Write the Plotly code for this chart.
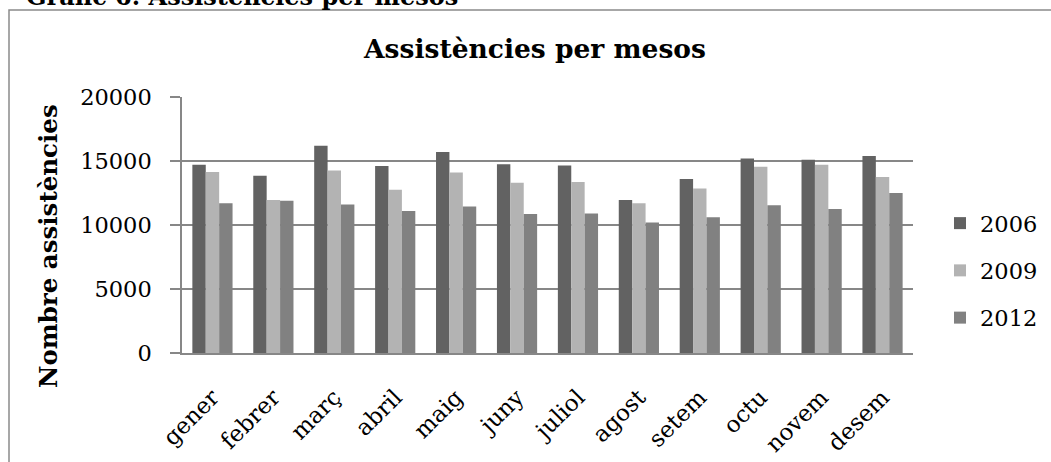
import plotly.graph_objects as go

# Monthly assistance counts per year
months = ["gener", "febrer", "març", "abril", "maig", "juny",
          "juliol", "agost", "setem", "octu", "novem", "desem"]
y2006 = [14700, 13850, 16200, 14600, 15700, 14750, 14650, 11950, 13600, 15200, 15100, 15400]
y2009 = [14150, 11950, 14250, 12750, 14100, 13300, 13350, 11700, 12850, 14550, 14700, 13750]
y2012 = [11700, 11900, 11600, 11100, 11450, 10850, 10900, 10200, 10600, 11550, 11250, 12500]
years = ["2006", "2009", "2012"]
colors = ["#626262", "#b3b3b3", "#818181"]
y_ticks = [0, 5000, 10000, 15000, 20000]

W, H = 1051, 462
FONT = "DejaVu Serif"
GRID = "#878787"

fig = go.Figure()
for name, vals, col in zip(years, [y2006, y2009, y2012], colors):
    fig.add_trace(go.Bar(
        x=months, y=vals, name=name, legendgroup=name,
        marker=dict(color=col, line=dict(width=0)),
    ))

fig.update_layout(
    width=W, height=H,
    margin=dict(l=0, r=0, t=0, b=0),
    paper_bgcolor="white", plot_bgcolor="white",
    barmode="group", bargap=0.34, bargroupgap=0,
    font=dict(family=FONT, size=22, color="black"),
    title=dict(
        text="<b>Assistències per mesos</b>",
        font=dict(family=FONT, size=26.5, color="black"),
        x=535 / W, xanchor="center", xref="paper",
        y=1 - 49 / H, yanchor="middle", yref="container",
    ),
    legend=dict(
        x=940 / W, xanchor="left", y=1 - 202 / H, yanchor="top",
        font=dict(family=FONT, size=22.5, color="black"),
        traceorder="grouped", tracegroupgap=15, itemwidth=30,
        bgcolor="rgba(0,0,0,0)",
    ),
    xaxis=dict(
        domain=[182 / W, 913 / W], automargin=False,
        tickangle=-45, showgrid=False, zeroline=False,
        showline=True, linecolor=GRID, linewidth=1.5,
        ticks="", ticklabelstandoff=20,
        tickfont=dict(family=FONT, size=23),
    ),
    yaxis=dict(
        domain=[109 / H, 365 / H], automargin=False,
        range=[0, 20000], tickvals=y_ticks, ticktext=[str(v) for v in y_ticks],
        showgrid=True, gridcolor=GRID, gridwidth=1.5, zeroline=False,
        showline=True, linecolor=GRID, linewidth=1.5,
        ticks="outside", ticklen=10, tickcolor=GRID, tickwidth=1.5,
        ticklabelstandoff=14, tickfont=dict(family=FONT, size=22.5),
    ),
    annotations=[
        dict(text="<b>Nombre assistències</b>", textangle=-90,
             x=49 / W, y=1 - 246 / H, xref="paper", yref="paper",
             xanchor="center", yanchor="middle", showarrow=False,
             font=dict(family=FONT, size=24.5, color="black")),
        dict(text="<b>Gràfic 6. Assistències per mesos</b>",
             x=24 / W, y=1 + 3 / H, xref="paper", yref="paper",
             xanchor="left", yanchor="middle", showarrow=False,
             font=dict(family=FONT, size=24, color="black")),
    ],
    shapes=[
        dict(type="rect", xref="paper", yref="paper",
             x0=9 / W, x1=1.02, y0=-0.02, y1=1 - 10 / H,
             line=dict(color="#8a8a8a", width=1.5), fillcolor="rgba(0,0,0,0)",
             layer="below"),
    ],
)

fig.write_html("out.html")
